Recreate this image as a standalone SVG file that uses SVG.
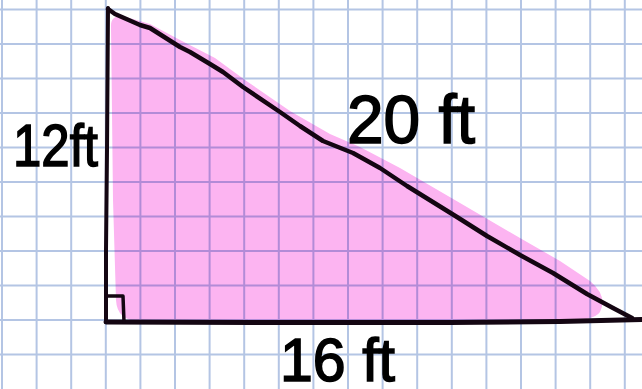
<svg xmlns="http://www.w3.org/2000/svg" width="642" height="389" viewBox="0 0 642 389">
<style>
.grid line{stroke:#b4c5e4;stroke-width:2}
.ink{fill:none;stroke:#140612;stroke-linecap:round;stroke-linejoin:round}
.lbl{font-family:"Liberation Sans",Arial,sans-serif;fill:#000;stroke:#000;stroke-width:1.6}
</style>
<rect width="642" height="389" fill="#ffffff"/>
<g id="grid" class="grid">
<line x1="2" y1="0" x2="2" y2="389"/><line x1="36.6" y1="0" x2="36.6" y2="389"/><line x1="71.2" y1="0" x2="71.2" y2="389"/><line x1="105.8" y1="0" x2="105.8" y2="389"/><line x1="140.4" y1="0" x2="140.4" y2="389"/><line x1="175" y1="0" x2="175" y2="389"/><line x1="209.6" y1="0" x2="209.6" y2="389"/><line x1="244.2" y1="0" x2="244.2" y2="389"/><line x1="278.8" y1="0" x2="278.8" y2="389"/><line x1="313.4" y1="0" x2="313.4" y2="389"/><line x1="348" y1="0" x2="348" y2="389"/><line x1="382.6" y1="0" x2="382.6" y2="389"/><line x1="417.2" y1="0" x2="417.2" y2="389"/><line x1="451.8" y1="0" x2="451.8" y2="389"/><line x1="486.4" y1="0" x2="486.4" y2="389"/><line x1="521" y1="0" x2="521" y2="389"/><line x1="555.6" y1="0" x2="555.6" y2="389"/><line x1="590.2" y1="0" x2="590.2" y2="389"/><line x1="624.8" y1="0" x2="624.8" y2="389"/>
<line x1="0" y1="9.5" x2="642" y2="9.5"/><line x1="0" y1="44" x2="642" y2="44"/><line x1="0" y1="78.5" x2="642" y2="78.5"/><line x1="0" y1="113" x2="642" y2="113"/><line x1="0" y1="147.5" x2="642" y2="147.5"/><line x1="0" y1="182" x2="642" y2="182"/><line x1="0" y1="216.5" x2="642" y2="216.5"/><line x1="0" y1="251" x2="642" y2="251"/><line x1="0" y1="285.5" x2="642" y2="285.5"/><line x1="0" y1="320" x2="642" y2="320"/><line x1="0" y1="354.5" x2="642" y2="354.5"/>
</g>
<g id="triangle">
<path d="M111,26 C111,17 117,15 126,17 L150,24 L180,40 L215,58 L245,80 L290,111 L330,134 L360,147 L400,168 L460,203 L520,238 L560,261 L590,281 Q608,296 600,312 Q594,321 560,321 L140,321 Q117,321 116,300 L113,200 Z" fill="#fcb4f1" style="mix-blend-mode:multiply"/>
<path class="ink" stroke-width="4.5" d="M108,9 L115,14 L140,25 L150,28 L180,47 L190,52 L210,64 L223,72 L243,87 L280,112 L300,126 L323,141 L353,153 L380,168 L407,186 L457,217 L487,236 L520,255 L553,273 L587,294 L613,308 L632,318"/>
<path class="ink" stroke="#000" stroke-width="4" d="M108,8 L107,150 L106,250 L106,322"/>
<path class="ink" stroke-width="5" d="M106,322 L300,322.5 L450,322.5 L560,321.5 L642,319.5"/>
<path class="ink" stroke="#000" stroke-width="3.5" d="M107,296 L123,296 L124,322"/>
</g>
<g id="labels">
<text class="lbl" x="13" y="166" font-size="60" textLength="85" lengthAdjust="spacingAndGlyphs">12ft</text>
<text class="lbl" x="347" y="143" font-size="68" textLength="128" lengthAdjust="spacingAndGlyphs">20 ft</text>
<text class="lbl" x="280" y="381" font-size="62" textLength="115" lengthAdjust="spacingAndGlyphs">16 ft</text>
</g>
</svg>
